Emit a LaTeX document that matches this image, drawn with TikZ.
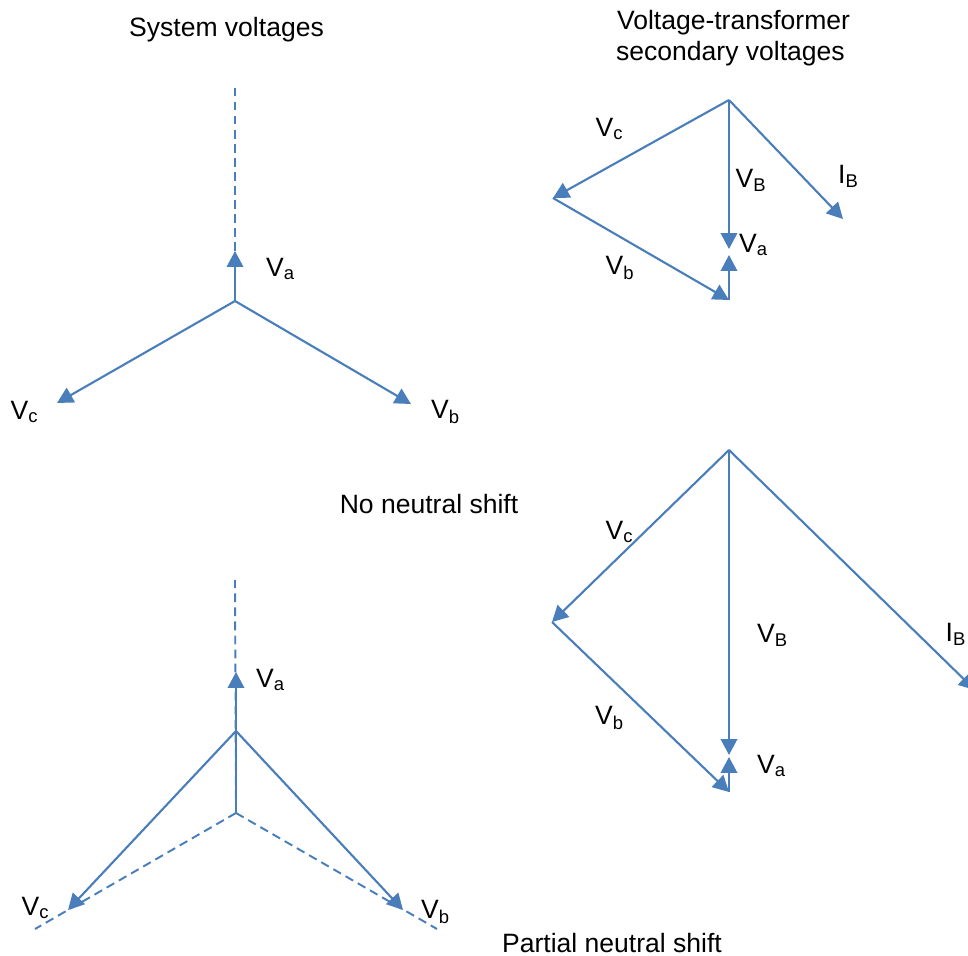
\documentclass[tikz,border=0pt]{standalone}
\usepackage{fontspec}
\setmainfont{Liberation Sans}
\usetikzlibrary{arrows.meta}
\definecolor{phasor}{HTML}{4A7EBB}
\tikzset{
  vec/.style={draw=phasor,line width=1.2pt,-{Triangle[length=0.32cm,width=0.33cm]}},
  ref/.style={draw=phasor,line width=1.1pt,dash pattern=on 5pt off 3pt},
  lbl/.style={inner sep=0pt,font=\fontsize{15.1}{17.6}\selectfont}
}
\newcommand{\sub}[2]{#1\textsubscript{\fontsize{10.5}{12}\selectfont #2}}

\begin{document}
\begin{tikzpicture}[x=0.02cm,y=-0.02cm]
  \clip (0,0) rectangle (968,956);

  % system voltages, no shift
  \node[lbl] (title1) at (226.5,30) {System voltages};
  \coordinate (O1) at (235,301);
  \coordinate (A1) at (235,251);
  \coordinate (top1) at (235,85);
  \coordinate (B1) at (411,404);
  \coordinate (C1) at (57,403);
  \draw [ref] (A1) -- (top1);
  \draw [vec] (O1) -- (A1);
  \draw [vec] (O1) -- (B1);
  \draw [vec] (O1) -- (C1);
  \node[lbl] (Va1) at (280.5,269) {\sub{V}{a}};
  \node[lbl] (Vb1) at (445.5,412) {\sub{V}{b}};
  \node[lbl] (Vc1) at (24.5,412) {\sub{V}{c}};

  % secondary voltages, no shift
  \node[lbl] (title2a) at (733.5,23) {Voltage-transformer};
  \node[lbl] (title2b) at (730.5,54) {secondary voltages};
  \coordinate (P2) at (729,100);
  \coordinate (C2) at (553,198);
  \coordinate (N2) at (729,300);
  \coordinate (B2) at (729,249);
  \coordinate (A2) at (729,255);
  \coordinate (I2) at (843,219);
  \draw [vec] (P2) -- (C2);
  \draw [vec] (C2) -- (N2);
  \draw [vec] (P2) -- (B2);
  \draw [vec] (N2) -- (A2);
  \draw [vec] (P2) -- (I2);
  \node[lbl] (Vc2) at (609.5,129) {\sub{V}{c}};
  \node[lbl] (Vb2) at (620,268) {\sub{V}{b}};
  \node[lbl] (VB2) at (751,180) {\sub{V}{B}};
  \node[lbl] (Va2) at (753.5,245) {\sub{V}{a}};
  \node[lbl] (IB2) at (848.5,176) {\sub{I}{B}};

  \node[lbl] (title3) at (429,504) {No neutral shift};

  % system voltages, partial shift
  \coordinate (top3) at (235,580);
  \coordinate (A3) at (236,672);
  \coordinate (O3) at (236,731);
  \coordinate (N3) at (236,813);
  \coordinate (B3) at (403,910);
  \coordinate (C3) at (68,910);
  \coordinate (Bend) at (437,929);
  \coordinate (Cend) at (35,929);
  \draw [ref] (N3) -- (top3);
  \draw [ref] (N3) -- (Bend);
  \draw [ref] (N3) -- (Cend);
  \draw [vec] (N3) -- (A3);
  \draw [vec] (O3) -- (B3);
  \draw [vec] (O3) -- (C3);
  \node[lbl] (Va3) at (270.5,680) {\sub{V}{a}};
  \node[lbl] (Vb3) at (435.5,912) {\sub{V}{b}};
  \node[lbl] (Vc3) at (35.5,908) {\sub{V}{c}};

  % secondary voltages, partial shift
  \coordinate (P4) at (729,450);
  \coordinate (C4) at (552,622);
  \coordinate (N4) at (729,792);
  \coordinate (B4) at (729,755);
  \coordinate (A4) at (729,757);
  \coordinate (I4) at (975,690);
  \draw [vec] (P4) -- (C4);
  \draw [vec] (C4) -- (N4);
  \draw [vec] (P4) -- (B4);
  \draw [vec] (N4) -- (A4);
  \draw [vec] (P4) -- (I4);
  \node[lbl] (Vc4) at (619.5,532) {\sub{V}{c}};
  \node[lbl] (Vb4) at (609.5,718) {\sub{V}{b}};
  \node[lbl] (VB4) at (772.5,635) {\sub{V}{B}};
  \node[lbl] (Va4) at (771.5,766) {\sub{V}{a}};
  \node[lbl] (IB4) at (956,634) {\sub{I}{B}};

  \node[lbl] (title4) at (612,943) {Partial neutral shift};
\end{tikzpicture}
\end{document}
